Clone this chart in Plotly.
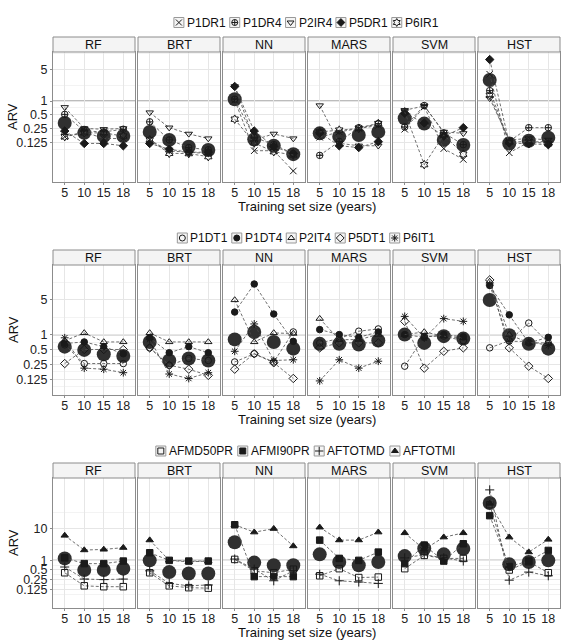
import plotly.graph_objects as go

models = ["RF", "BRT", "NN", "MARS", "SVM", "HST"]
years = ["5", "10", "15", "18"]

# ---- row 1 : rainfall predictors (values per model: RF, BRT, NN, MARS, SVM, HST)
P1DR1 = [[0.165, 0.21, 0.15, 0.15], [0.14, 0.08, 0.075, 0.07], [1.05, 0.081, 0.081, 0.029],
         [0.16, 0.21, 0.25, 0.29], [0.24, 0.75, 0.09, 0.052], [3.9, 0.073, 0.125, 0.13]]
P1DR4 = [[0.51, 0.22, 0.21, 0.24], [0.35, 0.14, 0.095, 0.085], [1.1, 0.16, 0.11, 0.07],
         [0.064, 0.13, 0.26, 0.32], [0.27, 0.8, 0.2, 0.11], [1.7, 0.13, 0.26, 0.26]]
P2IR4 = [[0.73, 0.25, 0.24, 0.25], [0.56, 0.26, 0.19, 0.15], [2.1, 0.14, 0.19, 0.15],
         [0.8, 0.118, 0.104, 0.104], [0.63, 0.78, 0.21, 0.195], [1.15, 0.14, 0.15, 0.14]]
P5DR1 = [[0.22, 0.117, 0.117, 0.104], [0.117, 0.087, 0.075, 0.075], [2.1, 0.22, 0.1, 0.07],
         [0.2, 0.104, 0.095, 0.128], [0.54, 0.33, 0.17, 0.26], [8.2, 0.12, 0.115, 0.11]]
P6IR1 = [[0.165, 0.2, 0.2, 0.17], [0.14, 0.071, 0.07, 0.06], [0.4, 0.12, 0.077, 0.065],
         [0.21, 0.23, 0.25, 0.32], [0.58, 0.04, 0.18, 0.068], [1.35, 0.125, 0.13, 0.115]]
mean_r1 = [[0.33, 0.2, 0.17, 0.17], [0.21, 0.14, 0.099, 0.084], [1.1, 0.144, 0.104, 0.068],
           [0.195, 0.165, 0.18, 0.21], [0.42, 0.32, 0.14, 0.108], [2.9, 0.117, 0.134, 0.156]]

# ---- row 2 : temperature predictors
P1DT1 = [[0.62, 0.26, 0.26, 0.26], [0.54, 0.24, 0.33, 0.3], [0.28, 0.41, 0.28, 1.13],
         [0.68, 0.83, 1.17, 1.3], [0.23, 0.92, 0.93, 0.75], [0.54, 0.75, 1.71, 0.68]]
P1DT4 = [[0.66, 0.71, 0.57, 0.41], [0.86, 0.43, 0.57, 0.43], [2.85, 10.5, 2.6, 0.73],
         [1.26, 1.0, 0.88, 1.13], [1.0, 0.88, 1.0, 0.9], [9.8, 2.5, 0.68, 0.88]]
P2IT4 = [[0.75, 1.08, 0.71, 0.71], [1.08, 0.71, 0.71, 0.71], [5.0, 0.71, 1.08, 1.05],
         [2.1, 0.79, 0.79, 1.0], [1.0, 1.13, 0.93, 0.85], [11.8, 1.0, 0.68, 0.68]]
P5DT1 = [[0.26, 0.5, 0.5, 0.5], [0.54, 0.24, 0.2, 0.15], [0.2, 0.41, 0.27, 0.13],
         [0.54, 0.68, 0.68, 0.68], [1.85, 0.21, 0.46, 0.54], [12.7, 0.54, 0.23, 0.13]]
P6IT1 = [[0.86, 0.21, 0.2, 0.17], [0.8, 0.16, 0.13, 0.17], [0.46, 1.64, 0.3, 0.31],
         [0.116, 0.31, 0.21, 0.29], [2.33, 0.85, 2.1, 1.85], [10.0, 0.73, 0.73, 0.6]]
mean_r2 = [[0.57, 0.49, 0.4, 0.37], [0.71, 0.3, 0.33, 0.3], [0.8, 1.13, 0.71, 0.52],
           [0.65, 0.65, 0.63, 0.76], [1.0, 0.68, 0.93, 0.83], [5.0, 0.97, 0.65, 0.52]]

# ---- row 3 : aftershock predictors
AFMD50PR = [[0.41, 0.16, 0.15, 0.15], [0.41, 0.16, 0.14, 0.135], [1.07, 0.47, 0.41, 0.53],
            [0.33, 0.55, 0.29, 0.3], [0.55, 1.43, 1.15, 1.15], [55, 0.5, 0.9, 0.41]]
AFMI90PR = [[1.2, 0.79, 0.79, 0.95], [1.73, 1.0, 0.95, 0.95], [13, 0.31, 0.31, 0.31],
            [4.3, 1.15, 1.0, 1.81], [0.79, 3.0, 0.95, 3.3], [25, 0.64, 0.95, 2.04]]
AFTOTMD = [[0.62, 0.26, 0.25, 0.26], [0.47, 0.19, 0.16, 0.17], [1.1, 0.53, 0.23, 0.47],
           [0.37, 0.23, 0.21, 0.19], [1.2, 1.5, 1.2, 0.95], [160, 0.24, 0.43, 0.33]]
AFTOTMI = [[6.0, 2.1, 2.2, 2.5], [4.3, 1.0, 0.9, 0.95], [13, 7.6, 9.8, 2.8],
           [10.8, 4.3, 4.3, 7.6], [7.2, 2.2, 5.3, 7.2], [60, 5.3, 1.81, 4.5]]
mean_r3 = [[1.15, 0.5, 0.5, 0.55], [1.0, 0.43, 0.39, 0.39], [3.7, 0.85, 0.7, 0.7],
           [1.54, 0.89, 0.7, 0.89], [1.36, 2.36, 1.54, 2.3], [62, 0.75, 0.89, 1.0]]

ytick_r12 = [0.125, 0.25, 0.5, 1, 5]
ytick_r3 = [0.125, 0.25, 0.5, 1, 10]

rows = [
    dict(series=[("P1DR1", P1DR1, "x-thin-open"), ("P1DR4", P1DR4, "circle-cross-open"),
                 ("P2IR4", P2IR4, "triangle-down-open"), ("P5DR1", P5DR1, "diamond"),
                 ("P6IR1", P6IR1, "hexagram-open")],
         mean=mean_r1, ticks=ytick_r12, yrange=[-1.78, 1.08],
         minor=[0.088, 0.177, 0.354, 0.707, 2.236, 11.18]),
    dict(series=[("P1DT1", P1DT1, "circle-open"), ("P1DT4", P1DT4, "circle"),
                 ("P2IT4", P2IT4, "triangle-up-open"), ("P5DT1", P5DT1, "diamond-open"),
                 ("P6IT1", P6IT1, "asterisk-open")],
         mean=mean_r2, ticks=ytick_r12, yrange=[-1.22, 1.405],
         minor=[0.088, 0.177, 0.354, 0.707, 2.236, 11.18]),
    dict(series=[("AFMD50PR", AFMD50PR, "square-open"), ("AFMI90PR", AFMI90PR, "square"),
                 ("AFTOTMD", AFTOTMD, "cross-thin-open"), ("AFTOTMI", AFTOTMI, "triangle-up")],
         mean=mean_r3, ticks=ytick_r3, yrange=[-1.49, 2.576],
         minor=[0.088, 0.177, 0.354, 0.707, 3.162, 31.62]),
]

W, H = 570, 641
panel_left = [53, 138, 223, 308, 393, 478]
panel_w = 82
row_top = [52, 265, 478]
row_h = 130
strip_h = 15
legend_y = [22.5, 238, 451]
legend_cx = 308
font = "Liberation Sans, Arial, sans-serif"
fs = 12.5
lfs = 12

# rough Arial advance widths (em) to lay out the legend row
char_w = {"P": 0.667, "D": 0.722, "R": 0.722, "I": 0.278, "T": 0.611, "A": 0.667,
          "F": 0.611, "M": 0.833, "O": 0.778}


def text_w(s):
    return sum(char_w.get(ch, 0.556) for ch in s) * lfs * 1.03


fig = go.Figure()
layout = {}
shapes = []
annotations = []
line_col = "#4a4a4a"
mark_col = "#1a1a1a"

for r, row in enumerate(rows):
    for c, m in enumerate(models):
        k = r * 6 + c + 1
        xa = "x" if k == 1 else f"x{k}"
        ya = "y" if k == 1 else f"y{k}"
        x0 = panel_left[c] / W
        x1 = (panel_left[c] + panel_w) / W
        y1 = 1 - row_top[r] / H
        y0 = 1 - (row_top[r] + row_h) / H
        layout["xaxis" if k == 1 else f"xaxis{k}"] = dict(
            domain=[x0, x1], anchor=ya, type="category", range=[-0.6, 3.6],
            automargin=False,
            showgrid=True, gridcolor="#e6e6e6", gridwidth=1, zeroline=False,
            showline=True, mirror=True, linecolor="#8c8c8c", linewidth=1,
            ticks="outside", ticklen=2, tickcolor="#8c8c8c", ticklabelstandoff=-3,
            tickfont=dict(size=fs, color="#222", family=font),
            categoryorder="array", categoryarray=years, fixedrange=True)
        layout["yaxis" if k == 1 else f"yaxis{k}"] = dict(
            domain=[y0, y1], anchor=xa, type="log", range=row["yrange"],
            automargin=False,
            tickvals=row["ticks"], ticktext=[str(v) for v in row["ticks"]],
            showticklabels=(c == 0), ticks="outside" if c == 0 else "",
            ticklen=2, tickcolor="#8c8c8c",
            tickfont=dict(size=fs, color="#222", family=font),
            showgrid=True, gridcolor="#e6e6e6", gridwidth=1, zeroline=False,
            minor=dict(tickvals=row["minor"], showgrid=True, gridcolor="#f3f3f3", ticks=""),
            showline=True, mirror=True, linecolor="#8c8c8c", linewidth=1, fixedrange=True)

        # strip
        shapes.append(dict(type="rect", xref="paper", yref="paper", x0=x0, x1=x1,
                           y0=y1, y1=1 - (row_top[r] - strip_h) / H,
                           fillcolor="#f4f4f4", line=dict(color="#8c8c8c", width=1)))
        annotations.append(dict(text=m, xref="paper", yref="paper", x=(x0 + x1) / 2,
                                y=1 - (row_top[r] - strip_h / 2) / H, showarrow=False,
                                xanchor="center", yanchor="middle",
                                font=dict(size=fs, color="#111", family=font)))
        # reference line at ARV = 1
        shapes.append(dict(type="line", xref=f"{xa} domain", yref=ya, x0=0, x1=1,
                           y0=1, y1=1, line=dict(color="#7a7a7a", width=1.1), layer="below"))

        # overall (large) points
        fig.add_trace(go.Scatter(
            x=years, y=row["mean"][c], xaxis=xa, yaxis=ya, mode="markers",
            marker=dict(size=14, color="#303030"), showlegend=False, cliponaxis=False))
        for name, vals, sym in row["series"]:
            fig.add_trace(go.Scatter(
                x=years, y=vals[c], xaxis=xa, yaxis=ya, mode="lines+markers",
                line=dict(color=line_col, width=0.8, dash="3px,2px"),
                marker=dict(symbol=sym, size=6.5, color=mark_col,
                            line=dict(color=mark_col, width=1)),
                showlegend=False, cliponaxis=False))

    # legend row: key boxes, symbols and labels laid out left to right
    names = [s[0] for s in row["series"]]
    syms = [s[2] for s in row["series"]]
    widths = [12 + text_w(n) + 4 for n in names]
    lx = legend_cx - sum(widths) / 2
    key_x, key_y = [], []
    for n, wdt in zip(names, widths):
        shapes.append(dict(type="rect", xref="paper", yref="paper", layer="below",
                           x0=lx / W, x1=(lx + 10) / W,
                           y0=1 - (legend_y[r] + 5) / H, y1=1 - (legend_y[r] - 5) / H,
                           fillcolor="#f4f4f4", line=dict(color="#999", width=1)))
        annotations.append(dict(text=n, xref="paper", yref="paper", x=(lx + 12) / W,
                                y=1 - legend_y[r] / H, showarrow=False, xanchor="left",
                                yanchor="middle", borderpad=0,
                                font=dict(size=lfs, color="#111", family=font)))
        key_x.append(lx + 5)
        key_y.append(legend_y[r])
        lx += wdt
    fig.add_trace(go.Scatter(
        x=key_x, y=key_y, xaxis="x19", yaxis="y19", mode="markers",
        marker=dict(symbol=syms, size=6, color=mark_col, line=dict(color=mark_col, width=1)),
        showlegend=False, hoverinfo="skip", cliponaxis=False))

    # axis titles
    annotations.append(dict(text="ARV", xref="paper", yref="paper", x=13 / W,
                            y=1 - (row_top[r] + row_h / 2) / H, textangle=-90,
                            showarrow=False, xanchor="center", yanchor="middle",
                            font=dict(size=13, color="#111", family=font)))
    annotations.append(dict(text="Training set size (years)", xref="paper", yref="paper",
                            x=306.5 / W, y=1 - (row_top[r] + row_h + 24.5) / H,
                            showarrow=False, xanchor="center", yanchor="middle",
                            font=dict(size=13, color="#111", family=font)))

# pixel-space overlay axis used only for the legend keys
layout["xaxis19"] = dict(domain=[0, 1], range=[0, W], visible=False, anchor="y19",
                         automargin=False, fixedrange=True)
layout["yaxis19"] = dict(domain=[0, 1], range=[H, 0], visible=False, anchor="x19",
                         automargin=False, fixedrange=True)

fig.update_layout(
    width=W, height=H, margin=dict(l=0, r=0, t=0, b=0),
    paper_bgcolor="white", plot_bgcolor="rgba(0,0,0,0)", showlegend=False,
    shapes=shapes, annotations=annotations, **layout)

fig.write_html("out.html", config={"displayModeBar": False},
               post_script="document.body.style.margin='0';")
